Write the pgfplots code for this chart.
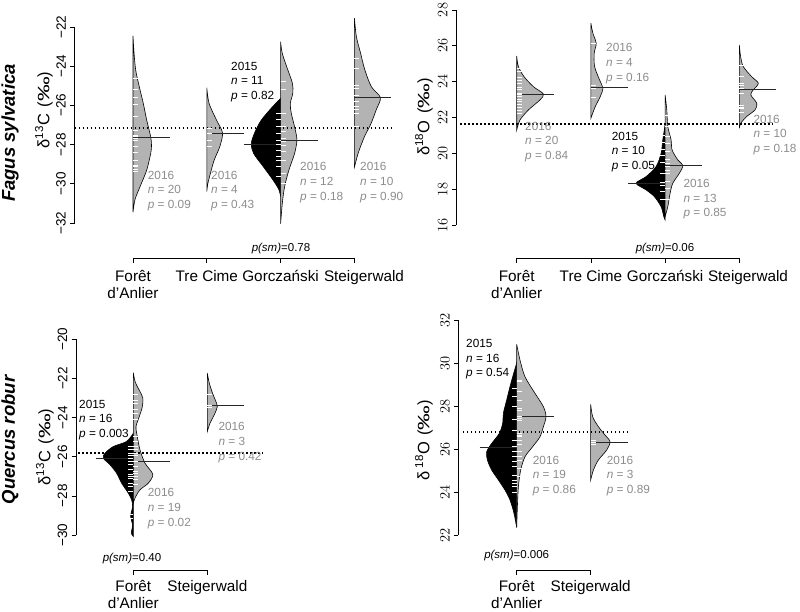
\documentclass[border=0pt]{standalone}
\usepackage{fontspec}
\setmainfont{Liberation Sans}
\usepackage{graphicx}
\usepackage{pgfplots}
\pgfplotsset{compat=1.18}

\definecolor{beangrey}{HTML}{B3B3B3}
\definecolor{txtgrey}{HTML}{8C8C8C}
\definecolor{meanc}{HTML}{262626}

\pgfdeclareplotmark{rugright}{\pgfpathmoveto{\pgfpointorigin}\pgfpathlineto{\pgfpoint{5pt}{0pt}}\pgfusepathqstroke}
\pgfdeclareplotmark{rugleft}{\pgfpathmoveto{\pgfpointorigin}\pgfpathlineto{\pgfpoint{-5pt}{0pt}}\pgfusepathqstroke}

\newcommand\annf{\fontsize{11.8}{14}\selectfont}
\newcommand\catf{\fontsize{15.3}{17}\selectfont}
\newcommand\ylf{\fontsize{16.5}{18}\selectfont}
\newcommand\spf{\fontsize{18.5}{20}\selectfont\bfseries\itshape}
\newcommand\psf{\fontsize{11.5}{13}\selectfont}
\newcommand\permil{\scalebox{1.5}[1]{‰}}

\pgfplotsset{
  beanax/.style={anchor=south west,clip=false,hide x axis,axis y line*=left,
    axis line style={-,line width=0.7pt},ytick align=outside,major tick length=4.5pt,
    ytick style={black,line width=0.7pt},yticklabel shift=4pt,
    yticklabel style={rotate=90,anchor=south,inner sep=0pt,font=\fontsize{13.5}{14}\selectfont}},
  beanG/.style={fill=beangrey,draw=black,line width=0.6pt,smooth,tension=0.5},
  beanB/.style={fill=black,draw=black,line width=0.6pt,smooth,tension=0.5},
  rug/.style={only marks,white,mark options={draw=white,line width=0.9pt,solid}},
  meanl/.style={meanc,line width=0.9pt},
  dotl/.style={black,line width=1.6pt,dash pattern=on 1.5pt off 2.5pt},
}

% bean halves: centre, x unit (pt), rows "value width(pt)"
\newcommand\beanR[3]{\addplot[beanG] table[row sep=\\,x expr=#1+\thisrow{w}/#2,y=v]{v w\\#3}--cycle;}
\newcommand\beanL[3]{\addplot[beanB] table[row sep=\\,x expr=#1-\thisrow{w}/#2,y=v]{v w\\#3}--cycle;}
\newcommand\rugR[2]{\addplot[rug,mark=rugright] table[row sep=\\,x expr=#1,y=v]{v\\#2};}
\newcommand\rugL[2]{\addplot[rug,mark=rugleft] table[row sep=\\,x expr=#1,y=v]{v\\#2};}

\newcommand\ann[6]{%
  \node[anchor=base west,inner sep=0pt,text=#3,font=\annf] at (#1,#2+4.2) {#4};
  \node[anchor=base west,inner sep=0pt,text=#3,font=\annf] at (#1,#2+18.9) {\textit{n} = #5};
  \node[anchor=base west,inner sep=0pt,text=#3,font=\annf] at (#1,#2+33.6) {\textit{p} = #6};}

\begin{document}
\begin{tikzpicture}
\path[use as bounding box] (0,0) rectangle (800pt,611pt);

% ---------- Fagus sylvatica, d13C
\begin{axis}[beanax,at={(74.5pt,388pt)},x=73.8pt,y=19.6pt,
  xmin=0.2073,xmax=4.51,ymin=-32,ymax=-22,
  ytick={-32,-30,-28,-26,-24,-22},yticklabels={−32,−30,−28,−26,−24,−22}]
  \beanR{1}{73.8}{-22.45 0\\-23.3 1\\-24.2 2.7\\-25.05 6.3\\-25.9 10.3\\-26.75 13.7\\-27.6 17.7\\-28.05 18.5\\-28.45 17.7\\-29.3 13.7\\-30.15 7\\-30.8 2\\-31.45 0\\}
  \beanR{2}{73.8}{-25.1 0\\-25.9 2.3\\-26.75 9.7\\-27.4 15.7\\-28.1 13\\-28.8 7.3\\-29.45 3.7\\-30.0 1\\-30.4 0\\}
  \beanL{3}{73.8}{-25.65 0\\-26.05 7.7\\-26.75 19.3\\-27.4 26\\-27.95 29.3\\-28.45 27\\-29.1 17.7\\-29.8 7.7\\-30.3 1.7\\-30.65 0\\}
  \beanR{3}{73.8}{-22.75 0\\-23.35 1.7\\-24.2 7.3\\-24.85 11.7\\-25.35 12.3\\-25.9 9.7\\-26.4 10.7\\-27.1 14\\-27.75 16.3\\-28.45 14\\-29.3 8.3\\-30.15 4\\-31.0 1.7\\-32.05 0\\}
  \beanR{4}{73.8}{-21.55 0\\-22.5 2\\-23.3 6\\-24.2 10.5\\-25.05 17\\-25.6 26\\-26.2 22\\-26.75 18\\-27.1 15\\-27.6 10\\-28.4 4\\-29.15 0\\}
  \rugR{1}{-24.62\\-25.18\\-25.59\\-25.94\\-26.57\\-27.26\\-27.52\\-27.6\\-27.68\\-27.77\\-28.11\\-28.41\\-28.79\\-29.04\\-29.13\\-29.26\\-29.38\\}
  \rugR{2}{-27.2\\-27.45\\-27.8\\-28.1\\}
  \rugL{3}{-26.4\\-26.74\\-27.09\\-27.43\\-27.77\\-27.97\\-28.28\\-28.62\\-28.79\\-29.13\\-29.64\\}
  \rugR{3}{-24.79\\-25.21\\-26.4\\-27.09\\-27.34\\-27.68\\-27.85\\-28.02\\-28.36\\-28.79\\-29.47\\-29.98\\}
  \rugR{4}{-23.6\\-24.11\\-24.96\\-25.13\\-25.47\\-25.81\\-26.03\\-26.23\\-26.4\\-27.09\\}
  \addplot[meanl] coordinates {(1,-27.62) (1.5,-27.62)};
  \addplot[meanl] coordinates {(2,-27.42) (2.5,-27.42)};
  \addplot[meanl] coordinates {(2.5,-27.97) (3,-27.97)};
  \addplot[meanl] coordinates {(3,-27.78) (3.5,-27.78)};
  \addplot[meanl] coordinates {(4,-25.59) (4.5,-25.59)};
  \addplot[dotl] coordinates {(0.2073,-27.14) (4.51,-27.14)};
\end{axis}

% ---------- Fagus sylvatica, d18O
\begin{axis}[beanax,at={(456pt,386pt)},x=74.2pt,y=17.92pt,
  xmin=0.182,xmax=4.454,ymin=16,ymax=28,
  ytick={16,18,...,28}]
  \beanR{1}{74.2}{25.43 0\\24.84 1.7\\24.28 7.3\\23.72 16.7\\23.31 26.7\\22.98 23.3\\22.42 11.7\\21.86 3.3\\21.3 0\\}
  \beanR{2}{74.2}{27.26 0\\26.7 2\\26.14 5.3\\25.58 3.3\\24.84 3.7\\24.09 8.7\\23.63 12\\23.16 9.3\\22.6 4.3\\21.96 0\\}
  \beanL{3}{74.2}{21.6 0\\20.75 2.3\\20.0 4\\19.26 9\\18.7 19\\18.33 29\\17.96 19\\17.58 10.7\\17.02 4\\16.47 1.3\\16.28 0\\}
  \beanR{3}{74.2}{23.26 0\\22.42 1.7\\21.49 2.7\\20.75 6\\20.19 7\\19.63 12.7\\19.31 17.7\\18.89 14.3\\18.33 7.7\\17.77 5\\17.02 2.7\\16.47 0\\}
  \beanR{4}{74.2}{26.05 0\\25.4 1.3\\24.84 4\\24.28 12.3\\23.91 19\\23.54 14\\23.26 11.5\\22.79 17.5\\22.42 15.7\\22.05 7.3\\21.68 1.5\\21.4 0\\}
  \rugR{1}{24.75\\24.56\\24.24\\24.09\\23.91\\23.69\\23.54\\23.35\\23.26\\23.17\\22.98\\22.88\\22.7\\22.57\\22.42\\22.23\\}
  \rugR{2}{26.14\\23.8\\23.63\\23.1\\}
  \rugL{3}{21.0\\20.6\\20.2\\19.9\\19.5\\18.9\\18.4\\18.2\\17.9\\17.4\\}
  \rugR{3}{22.14\\21.49\\20.93\\20.56\\20.1\\19.63\\19.44\\19.26\\19.07\\18.89\\18.42\\18.06\\17.4\\}
  \rugR{4}{24.93\\24.3\\23.91\\23.76\\23.63\\23.35\\22.65\\22.57\\22.5\\22.3\\}
  \addplot[meanl] coordinates {(1,23.3) (1.5,23.3)};
  \addplot[meanl] coordinates {(2,23.69) (2.5,23.69)};
  \addplot[meanl] coordinates {(2.5,18.33) (3,18.33)};
  \addplot[meanl] coordinates {(3,19.31) (3.5,19.31)};
  \addplot[meanl] coordinates {(4,23.57) (4.5,23.57)};
  \addplot[dotl] coordinates {(0.236,21.64) (4.454,21.64)};
\end{axis}

% ---------- Quercus robur, d13C
\begin{axis}[beanax,at={(76pt,76pt)},x=74pt,y=19.57pt,
  xmin=0.2257,xmax=2.753,ymin=-30,ymax=-20,
  ytick={-30,-28,-26,-24,-22,-20},yticklabels={−30,−28,−26,−24,−22,−20}]
  \beanL{1}{74}{-24.8 0\\-25.22 6.7\\-25.48 20\\-25.82 28.3\\-26.07 30\\-26.41 23.3\\-26.84 16.7\\-27.35 11.7\\-27.86 5\\-28.2 1.7\\-28.54 0.7\\-29.05 2.7\\-29.47 0.7\\-29.9 2\\-30.07 0\\}
  \beanR{1}{74}{-21.7 0\\-22.2 2\\-22.6 6\\-23.0 9.5\\-23.45 9\\-23.95 6\\-24.46 2.7\\-24.97 4\\-25.65 6.7\\-26.33 11.7\\-26.9 19.5\\-27.35 15\\-27.69 6.7\\-28.11 1.7\\-28.37 0\\}
  \beanR{2}{74}{-21.73 0\\-22.24 2\\-22.76 5.3\\-23.27 9.3\\-23.44 10\\-23.78 7.7\\-24.29 2.7\\-24.71 0\\}
  \rugL{1}{-25.48\\-25.65\\-25.82\\-25.95\\-26.07\\-26.24\\-26.41\\-26.67\\-26.93\\-27.01\\-27.1\\-27.35\\-27.52\\-27.77\\-28.96\\-29.13\\}
  \rugR{1}{-22.84\\-23.1\\-23.27\\-23.61\\-23.78\\-24.08\\-24.97\\-25.22\\-25.48\\-25.65\\-25.82\\-25.95\\-26.24\\-26.5\\-26.76\\-26.87\\-27.01\\-27.18\\-27.43\\}
  \rugR{2}{-22.8\\-23.38\\-23.48\\}
  \addplot[meanl] coordinates {(0.5,-26.07) (1,-26.07)};
  \addplot[meanl] coordinates {(1,-26.22) (1.5,-26.22)};
  \addplot[meanl] coordinates {(2,-23.4) (2.5,-23.4)};
  \addplot[dotl] coordinates {(0.253,-25.82) (2.753,-25.82)};
\end{axis}

% ---------- Quercus robur, d18O
\begin{axis}[beanax,at={(458.3pt,76pt)},x=74pt,y=21.5pt,
  xmin=0.211,xmax=2.5,ymin=22,ymax=32,
  ytick={22,24,...,32}]
  \beanL{1}{74}{30.0 0\\29.36 4\\28.9 6.7\\28.28 10\\27.66 13.3\\27.2 14\\26.73 17.3\\26.26 25\\25.87 30\\25.49 29.3\\25.02 25\\24.56 18.3\\24.09 11.7\\23.63 6.7\\23.01 2.7\\22.35 0\\}
  \beanR{1}{74}{30.87 0\\30.14 3.3\\29.36 8.3\\28.59 18.3\\27.97 26.7\\27.5 29.3\\27.04 26.7\\26.57 23.3\\26.11 16\\25.64 8.3\\25.02 4\\24.25 1.7\\23.32 0.7\\22.35 0\\}
  \beanR{2}{74}{28.07 0\\27.5 2\\27.04 7.7\\26.65 14.3\\26.34 19.3\\25.95 16\\25.49 7.7\\25.02 2.7\\24.56 0\\}
  \rugL{1}{28.82\\28.43\\27.97\\27.38\\26.88\\26.42\\26.11\\25.88\\25.64\\25.41\\25.18\\24.79\\24.56\\24.4\\24.25\\24.0\\}
  \rugR{1}{29.21\\29.13\\28.67\\28.28\\27.89\\27.78\\27.5\\27.43\\27.35\\26.73\\26.65\\26.57\\26.42\\26.19\\25.88\\25.64\\25.49\\25.1\\24.71\\}
  \rugR{2}{26.39\\26.29\\26.19\\}
  \addplot[meanl] coordinates {(0.5,26.05) (1,26.05)};
  \addplot[meanl] coordinates {(1,27.5) (1.5,27.5)};
  \addplot[meanl] coordinates {(2,26.31) (2.5,26.31)};
  \addplot[dotl] coordinates {(0.274,26.78) (2.504,26.78)};
\end{axis}

% ---------- text, labels and category axes (pixel frame, y down)
\begin{scope}[shift={(0,611pt)},x=1pt,y=-1pt]
  \node[rotate=90,font=\spf] at (10,133) {Fagus sylvatica};
  \node[rotate=90,font=\spf] at (10,440) {Quercus robur};
  \node[rotate=90,font=\ylf] at (44,110) {δ\textsuperscript{13}C\hspace{2pt} (\permil)};
  \node[rotate=90,font=\ylf] at (424,117) {δ\textsuperscript{18}O\hspace{2pt} (\permil)};
  \node[rotate=90,font=\ylf] at (45,447) {δ\textsuperscript{13}C\hspace{2pt} (\permil)};
  \node[rotate=90,font=\ylf] at (424,440) {δ\,\textsuperscript{18}O\hspace{2pt} (\permil)};

  \begin{scope}[line width=0.7pt]
    \draw (133,263)--(133,258.3)--(354.4,258.3)--(354.4,263);
    \draw (206.8,258.3)--(206.8,263) (280.6,258.3)--(280.6,263);
    \draw (516.7,263)--(516.7,258.3)--(739.3,258.3)--(739.3,263);
    \draw (590.9,258.3)--(590.9,263) (665.1,258.3)--(665.1,263);
    \draw (133.3,575)--(133.3,570)--(207.3,570)--(207.3,575);
    \draw (516.7,575)--(516.7,570)--(590.7,570)--(590.7,575);
  \end{scope}

  \begin{scope}[every node/.style={anchor=base,inner sep=0pt,font=\catf}]
    \node at (133,281.7) {Forêt}; \node at (133,298.3) {d’Anlier};
    \node at (206.8,281.7) {Tre Cime}; \node at (280.6,281.7) {Gorczański};
    \node at (364,281.7) {Steigerwald};
    \node at (516.7,281.7) {Forêt}; \node at (516.7,298.3) {d’Anlier};
    \node at (590.9,281.7) {Tre Cime}; \node at (665.1,281.7) {Gorczański};
    \node at (748,281.7) {Steigerwald};
    \node at (133.3,591.7) {Forêt}; \node at (133.3,608.3) {d’Anlier};
    \node at (207.3,591.7) {Steigerwald};
    \node at (516.7,591.7) {Forêt}; \node at (516.7,608.3) {d’Anlier};
    \node at (590.7,591.7) {Steigerwald};
  \end{scope}

  \begin{scope}[every node/.style={anchor=base,inner sep=0pt,font=\psf}]
    \node at (281,252) {\textit{p(sm)}=0.78};
    \node at (665,252) {\textit{p(sm)}=0.06};
    \node at (132,561) {\textit{p(sm)}=0.40};
    \node at (516.7,558) {\textit{p(sm)}=0.006};
  \end{scope}

  \ann{231}{66}{black}{2015}{11}{0.82}
  \ann{147.7}{175}{txtgrey}{2016}{20}{0.09}
  \ann{211}{175}{txtgrey}{2016}{4}{0.43}
  \ann{300}{166.7}{txtgrey}{2016}{12}{0.18}
  \ann{360}{166.7}{txtgrey}{2016}{10}{0.90}

  \ann{525}{126}{txtgrey}{2016}{20}{0.84}
  \ann{606}{47.7}{txtgrey}{2016}{4}{0.16}
  \ann{611.7}{136}{black}{2015}{10}{0.05}
  \ann{683.3}{183.3}{txtgrey}{2016}{13}{0.85}
  \ann{753.3}{119}{txtgrey}{2016}{10}{0.18}

  \ann{79}{404}{black}{2015}{16}{0.003}
  \ann{147.7}{492.7}{txtgrey}{2016}{19}{0.02}
  \ann{218.3}{426.7}{txtgrey}{2016}{3}{0.42}

  \ann{466}{343.3}{black}{2015}{16}{0.54}
  \ann{532.7}{460}{txtgrey}{2016}{19}{0.86}
  \ann{606.7}{460}{txtgrey}{2016}{3}{0.89}
\end{scope}
\end{tikzpicture}
\end{document}
